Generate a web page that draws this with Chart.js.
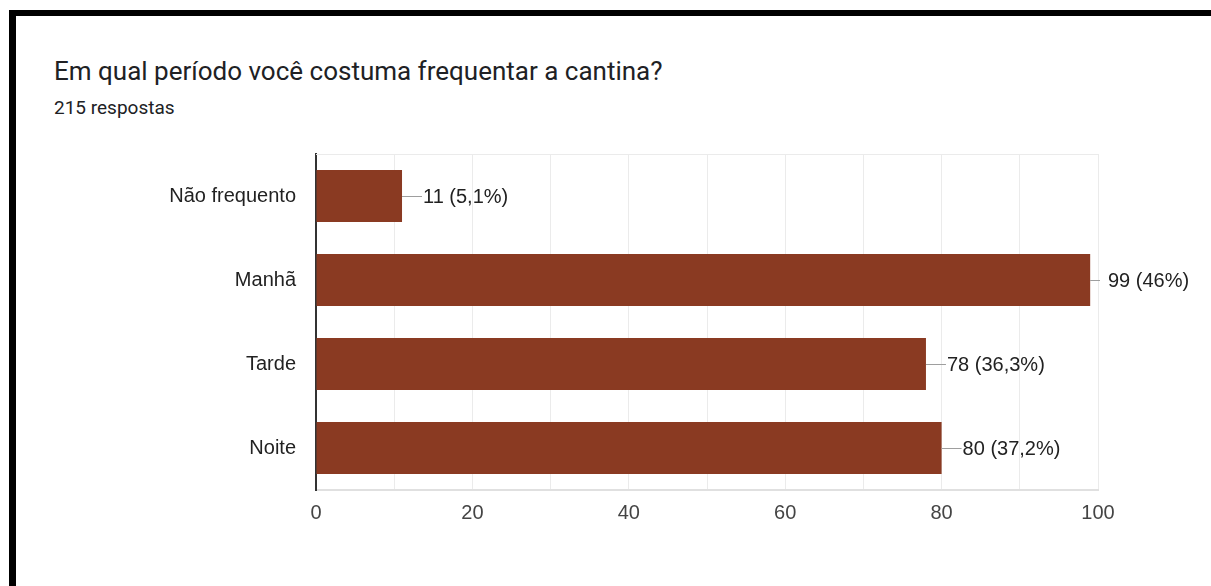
<!DOCTYPE html>
<html>
<head>
<meta charset="utf-8">
<script src="https://cdn.jsdelivr.net/npm/chart.js@4"></script>
<style>
  html, body { margin: 0; padding: 0; background: #fff; }
  body { width: 1211px; height: 586px; position: relative; overflow: hidden; }
  #frame { position: absolute; left: 9px; top: 10px; right: -10px; bottom: -10px;
           border-top: 6px solid #000; border-left: 7px solid #000; }
  #title { position: absolute; left: 54px; top: 56px; font: 26px Roboto, sans-serif; color: #202124; white-space: nowrap; }
  #sub { position: absolute; left: 54px; top: 96px; font: 19px Roboto, sans-serif; color: #202124; white-space: nowrap; }
  #wrap { position: absolute; left: 0; top: 0; width: 1211px; height: 586px; }
</style>
</head>
<body>
<div id="frame"></div>
<div id="title">Em qual período você costuma frequentar a cantina?</div>
<div id="sub">215 respostas</div>
<div id="wrap"><canvas id="chart"></canvas></div>
<script>
// Dados
const categorias = ['Não frequento', 'Manhã', 'Tarde', 'Noite'];
const respostas = [11, 99, 78, 80];
const totalRespostas = 215;
const ticksComRotulo = [0, 20, 40, 60, 80, 100];

function formatarRotulo(v) {
    let pct = (v / totalRespostas * 100).toFixed(1).replace('.0', '').replace('.', ',');
    return v + ' (' + pct + '%)';
}

// Rótulos com linha guia ao lado das barras
const rotulosPlugin = {
    id: 'rotulos',
    afterDatasetsDraw(chart) {
        const ctx = chart.ctx;
        const area = chart.chartArea;
        const meta = chart.getDatasetMeta(0);
        ctx.save();
        ctx.font = '20px "Liberation Sans", Arial, sans-serif';
        ctx.textBaseline = 'middle';
        meta.data.forEach((bar, i) => {
            let fim = bar.x + 20;
            let texto = bar.x + 21;
            if (fim > area.right) {
                fim = area.right + 2;
                texto = area.right + 10;
            }
            ctx.strokeStyle = '#9e9e9e';
            ctx.lineWidth = 1;
            ctx.beginPath();
            ctx.moveTo(bar.x, Math.round(bar.y) + 0.5);
            ctx.lineTo(fim, Math.round(bar.y) + 0.5);
            ctx.stroke();
            ctx.fillStyle = '#222';
            ctx.fillText(formatarRotulo(respostas[i]), texto, bar.y + 1);
        });
        ctx.restore();
    },
    beforeDatasetsDraw(chart) {
        // linha superior da área do gráfico
        const ctx = chart.ctx;
        const area = chart.chartArea;
        ctx.save();
        ctx.strokeStyle = '#ebebeb';
        ctx.lineWidth = 1;
        ctx.beginPath();
        ctx.moveTo(area.left, area.top + 0.5);
        ctx.lineTo(area.right, area.top + 0.5);
        ctx.stroke();
        ctx.restore();
    }
};

new Chart(document.getElementById('chart'), {
    type: 'bar',
    data: {
        labels: categorias,
        datasets: [{
            data: respostas,
            backgroundColor: '#8a3a22',
            borderWidth: 0,
            barPercentage: 0.62,
            categoryPercentage: 1
        }]
    },
    options: {
        indexAxis: 'y',
        responsive: true,
        maintainAspectRatio: false,
        animation: false,
        layout: { padding: { top: 154, right: 113, bottom: 56, left: 0 } },
        plugins: {
            legend: { display: false },
            tooltip: { enabled: false }
        },
        scales: {
            x: {
                min: 0,
                max: 100,
                ticks: {
                    stepSize: 10,
                    autoSkip: false,
                    maxRotation: 0,
                    padding: 11,
                    color: '#444',
                    font: { family: '"Liberation Sans", Arial, sans-serif', size: 20 },
                    callback: function(value) {
                        return ticksComRotulo.includes(value) ? String(value) : '';
                    }
                },
                grid: { color: '#ebebeb', drawTicks: false },
                border: { color: '#e0e0e0', width: 2 },
                afterFit: function(scale) { scale.height = 40; }
            },
            y: {
                ticks: {
                    padding: 12,
                    color: '#222',
                    font: { family: '"Liberation Sans", Arial, sans-serif', size: 20 }
                },
                grid: { display: false },
                border: { color: '#333', width: 2 },
                afterFit: function(scale) { scale.width = 316; }
            }
        }
    },
    plugins: [rotulosPlugin]
});
</script>
</body>
</html>
